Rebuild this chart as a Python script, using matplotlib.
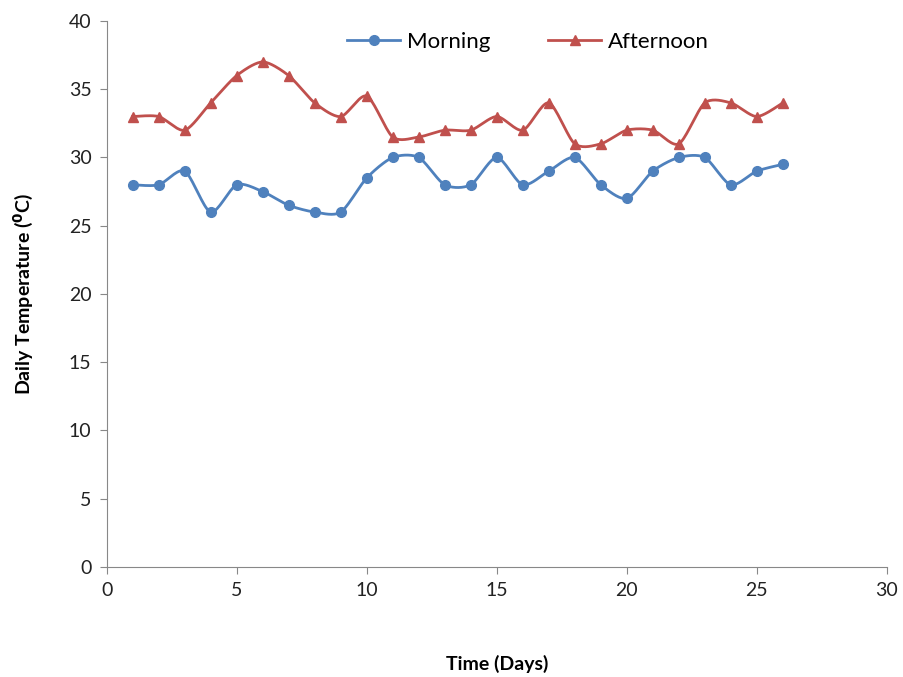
import matplotlib
matplotlib.use("Agg")
import matplotlib.pyplot as plt
import numpy as np

days = list(range(1, 27))
morning = [28, 28, 29, 26, 28, 27.5, 26.5, 26, 26, 28.5, 30, 30, 28, 28, 30,
           28, 29, 30, 28, 27, 29, 30, 30, 28, 29, 29.5]
afternoon = [33, 33, 32, 34, 36, 37, 36, 34, 33, 34.5, 31.5, 31.5, 32, 32, 33,
             32, 34, 31, 31, 32, 32, 31, 34, 34, 33, 34]

BLUE = '#4F81BD'
RED = '#C0504D'

plt.rcParams['font.family'] = ['Lato', 'DejaVu Sans']


def smooth(x, y, n=20):
    # Catmull-Rom style curve through the points (like Excel smoothed lines)
    x = np.asarray(x, float)
    y = np.asarray(y, float)
    px = np.concatenate(([x[0]], x, [x[-1]]))
    py = np.concatenate(([y[0]], y, [y[-1]]))
    t = np.linspace(0, 1, n)
    xs, ys = [], []
    for i in range(1, len(px) - 2):
        for p, out in ((px, xs), (py, ys)):
            p0, p1, p2, p3 = p[i - 1], p[i], p[i + 1], p[i + 2]
            m1 = (p2 - p0) / 2 * 0.8
            m2 = (p3 - p1) / 2 * 0.8
            h00 = 2 * t**3 - 3 * t**2 + 1
            h10 = t**3 - 2 * t**2 + t
            h01 = -2 * t**3 + 3 * t**2
            h11 = t**3 - t**2
            out.extend(h00 * p1 + h10 * m1 + h01 * p2 + h11 * m2)
    return np.array(xs), np.array(ys)


fig = plt.figure(figsize=(9.04, 6.77), dpi=100)
ax = fig.add_axes([0.118, 0.1625, 0.863, 0.8065])

for vals, col, mk, lab in ((morning, BLUE, 'o', 'Morning'),
                           (afternoon, RED, '^', 'Afternoon')):
    sx, sy = smooth(days, vals)
    ax.plot(sx, sy, color=col, lw=2)
    ax.plot(days, vals, linestyle='none', marker=mk, color=col, ms=7)
    ax.plot([], [], color=col, lw=2, marker=mk, ms=7, label=lab)

ax.set_xlim(0, 30)
ax.set_ylim(0, 40)
ax.set_xticks(range(0, 31, 5))
ax.set_yticks(range(0, 41, 5))
for s in ('top', 'right'):
    ax.spines[s].set_visible(False)
for s in ('left', 'bottom'):
    ax.spines[s].set_color('#888888')
ax.tick_params(direction='out', length=5, color='#888888', labelsize=14,
               labelcolor='#222222', pad=6)

ax.set_xlabel('Time (Days)', fontsize=14, fontweight='bold', labelpad=40)
ax.set_ylabel(r'Daily Temperature ($\mathbf{^0}$C)', fontsize=14,
              fontweight='bold', labelpad=24)

ax.legend(loc='center', bbox_to_anchor=(0.54, 0.962), ncol=2, frameon=False,
          fontsize=16, handlelength=2.4, handletextpad=0.3, columnspacing=2.6)

fig.savefig('out.png', dpi=100)
